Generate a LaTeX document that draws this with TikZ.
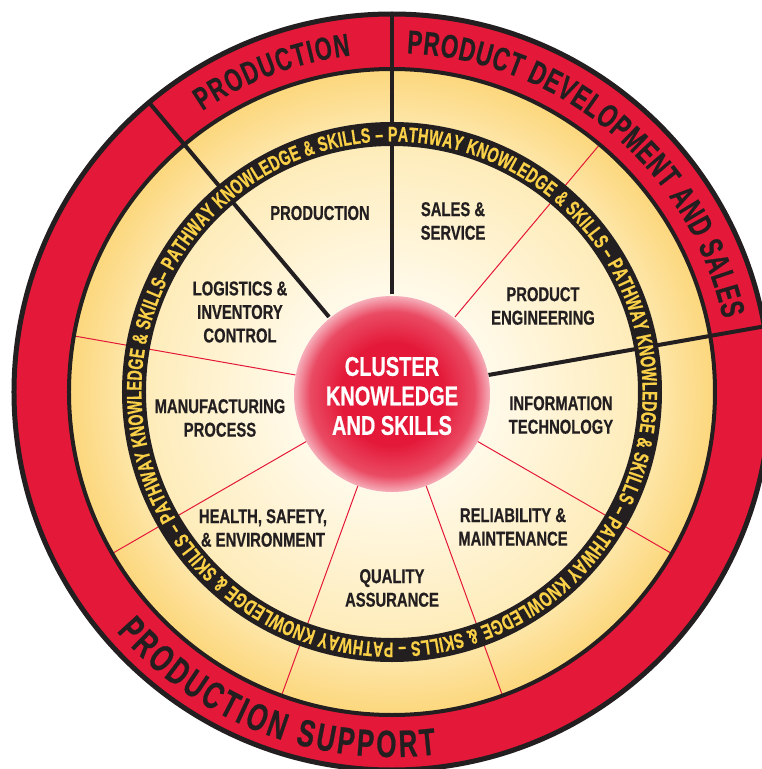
\documentclass[tikz,border=0pt]{standalone}
\usepackage{fontspec}
\setmainfont{Liberation Sans}[FakeStretch=0.74, FakeBold=0.6]
\newfontfamily\ringfont{Liberation Sans}[FakeStretch=0.68, FakeBold=0.6]
\usetikzlibrary{decorations.text}

\definecolor{ringred}{RGB}{228,24,56}
\definecolor{inkblack}{RGB}{35,31,32}
\definecolor{bandyellow}{RGB}{250,208,72}
\definecolor{creamwhite}{RGB}{255,249,232}
\definecolor{paleyellow}{RGB}{254,236,186}
\definecolor{goldyellow}{RGB}{252,215,124}

\pgfdeclareradialshading{wheelshade}{\pgfpoint{0bp}{0bp}}{%
  color(0bp)=(white); color(8bp)=(creamwhite); color(19bp)=(paleyellow);
  color(25bp)=(goldyellow); color(50bp)=(goldyellow)}
\pgfdeclareradialshading{hubshade}{\pgfpoint{0bp}{0bp}}{%
  color(0bp)=(ringred); color(13bp)=(ringred); color(21bp)=(ringred!78!white);
  color(25bp)=(ringred!35!white); color(50bp)=(white)}

\tikzset{
  sector/.style={font=\bfseries\fontsize{20}{23.5}\selectfont, text=inkblack, align=center},
  hubtext/.style={font=\bfseries\fontsize{27}{29.5}\selectfont, text=white, align=center},
  bigline/.style={draw=inkblack, line width=4pt},
  thinline/.style={draw=ringred, line width=1pt},
}

\begin{document}
\begin{tikzpicture}[x=1pt, y=1pt]
    \fill[white] (-392,-377) rectangle (370,392);
    \useasboundingbox (-392,-377) rectangle (370,392);

    % pale disc and the thin sector lines
    \shade[shading=wheelshade] (0,0) circle (323pt);
    \draw[thinline] (50:98pt) -- (50:323pt);
    \draw[thinline] (170:98pt) -- (170:323pt);
    \draw[thinline] (210:98pt) -- (210:323pt);
    \draw[thinline] (250:98pt) -- (250:323pt);
    \draw[thinline] (290:98pt) -- (290:323pt);
    \draw[thinline] (330:98pt) -- (330:323pt);

    % red outer ring
    \fill[ringred, even odd rule] (0,0) circle (378pt) (0,0) circle (323pt);
    \draw[inkblack, line width=5pt] (0,0) circle (378pt);
    \draw[inkblack, line width=4pt] (0,0) circle (323pt);

    \draw[bigline] (10:98pt) -- (10:378pt);
    \draw[bigline] (90:98pt) -- (90:378pt);
    \draw[bigline] (130:98pt) -- (130:378pt);

    % pathway band
    \fill[inkblack, even odd rule] (0,0) circle (270pt) (0,0) circle (246pt);
    \path[decorate, decoration={text along path, text align=fit to path,
        text={|\ringfont\bfseries\fontsize{21}{21}\selectfont\color{bandyellow}|– PATHWAY KNOWLEDGE {\&} SKILLS – PATHWAY KNOWLEDGE {\&} SKILLS – PATHWAY KNOWLEDGE {\&} SKILLS – PATHWAY KNOWLEDGE {\&} SKILLS – PATHWAY KNOWLEDGE {\&} SKILLS – PATHWAY KNOWLEDGE {\&} SKILLS }}]
        (154:250.5pt) arc[start angle=154, end angle=-206, radius=250.5pt];

    \path[decorate, decoration={text along path, text align=fit to path,
        text={|\ringfont\bfseries\fontsize{32}{32}\selectfont\color{inkblack}|PRODUCTION}}]
        (124:339pt) arc[start angle=124, end angle=97, radius=339pt];
    \path[decorate, decoration={text along path, text align=fit to path,
        text={|\ringfont\bfseries\fontsize{33}{33}\selectfont\color{inkblack}|PRODUCT DEVELOPMENT AND SALES}}]
        (87.5:339pt) arc[start angle=87.5, end angle=12.5, radius=339pt];
    \path[decorate, decoration={text along path, text align=fit to path,
        text={|\ringfont\bfseries\fontsize{38}{38}\selectfont\color{inkblack}|PRODUCTION SUPPORT}}]
        (221:365pt) arc[start angle=221, end angle=277, radius=365pt];

    % hub
    \node[circle, minimum size=196pt, inner sep=0pt, shade, shading=hubshade] (hub) at (0,-2) {};
    \node[hubtext] (hublabel) at (0,-4) {CLUSTER\\KNOWLEDGE\\AND SKILLS};

    \node[sector] (production) at (-72,179) {PRODUCTION};
    \node[sector] (sales) at (61,171) {SALES \&\\SERVICE};
    \node[sector] (engineering) at (151,86) {PRODUCT\\ENGINEERING};
    \node[sector] (infotech) at (169,-23) {INFORMATION\\TECHNOLOGY};
    \node[sector] (reliability) at (121,-135) {RELIABILITY \&\\MAINTENANCE};
    \node[sector] (quality) at (0,-196) {QUALITY\\ASSURANCE};
    \node[sector] (health) at (-129,-136) {HEALTH, SAFETY,\\\& ENVIRONMENT};
    \node[sector] (manufacturing) at (-172,-26) {MANUFACTURING\\PROCESS};
    \node[sector] (logistics) at (-152,80) {LOGISTICS \&\\INVENTORY\\CONTROL};

\end{tikzpicture}
\end{document}
